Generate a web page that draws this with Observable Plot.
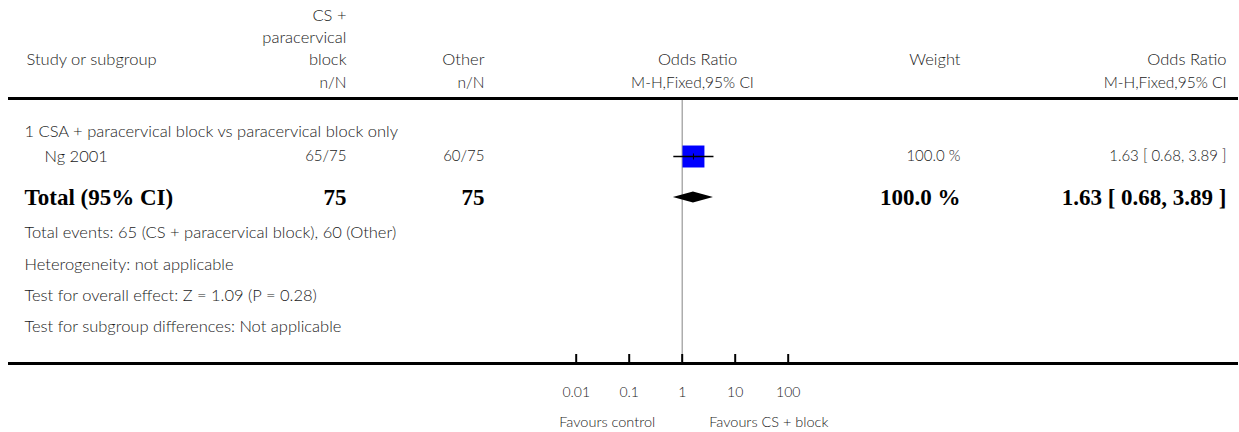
<!DOCTYPE html>
<html><head><meta charset="utf-8">
<script src="https://cdn.jsdelivr.net/npm/d3@7"></script>
<script src="https://cdn.jsdelivr.net/npm/@observablehq/plot@0.6"></script>
<style>
body{margin:0;background:#fff}
#chart svg{display:block}
</style>
</head><body><div id="chart"></div>
<script>
// ---- data ----
const subgroupTitles = ["1 CSA + paracervical block vs paracervical block only"];
const studies = ["Ng 2001"];
const expEvents = [65];
const expTotals = [75];
const ctrlEvents = [60];
const ctrlTotals = [75];
const studyOR = [1.63];
const studyLow = [0.68];
const studyHigh = [3.89];
const studyWeight = [100.0];
const totalExp = [75];
const totalCtrl = [75];
const pooledOR = [1.63];
const pooledLow = [0.68];
const pooledHigh = [3.89];
const pooledWeight = [100.0];
const footerLines = [
  "Total events: 65 (CS + paracervical block), 60 (Other)",
  "Heterogeneity: not applicable",
  "Test for overall effect: Z = 1.09 (P = 0.28)",
  "Test for subgroup differences: Not applicable"
];
const tickValues = [0.01, 0.1, 1, 10, 100];
const tickLabels = ["0.01", "0.1", "1", "10", "100"];
const favourLabels = ["Favours control", "Favours CS + block"];
const expHeader = ["CS +", "paracervical", "block"];
const headers = ["Study or subgroup", "Other", "Odds Ratio", "Weight", "Odds Ratio"];
const subHeaders = ["n/N", "n/N", "M-H,Fixed,95% CI", "M-H,Fixed,95% CI"];

// ---- layout (pixels) ----
const W = 1239, H = 432;
const colLeft = 24, colIndent = 44, colExp = 346, colCtrl = 484, colPlot = 697, colWeight = 960, colOR = 1226;
const rowH = [15, 37, 59], rowSub = 83, rowTopRule = 98, rowGroup = 131, rowStudy0 = 156, rowTotal = 197;
const rowFoot = [232, 264, 295, 326], rowBotRule = 363, rowTickLab = 392, rowFav = 422;
const sans = "Lato, 'Open Sans', sans-serif";
const serif = "'Liberation Serif', 'DejaVu Serif', serif";
const ink = "#1a1a1a";
const fsText = 16.5, fsNum = 15, fsBold = 23;

const studyRows = studies.map((s, i) => ({
  name: s, e: `${expEvents[i]}/${expTotals[i]}`, c: `${ctrlEvents[i]}/${ctrlTotals[i]}`,
  or: studyOR[i], lo: studyLow[i], hi: studyHigh[i], w: studyWeight[i], y: rowStudy0 + i * 28
}));
const fmt2 = d3.format(".2f");
const ciText = (o, l, h) => `${fmt2(o)} [ ${fmt2(l)}, ${fmt2(h)} ]`;

const L = (text, x, y, extra = {}) => Plot.text([text], {text: d => d, frameAnchor: "left", dx: x, y: () => y, textAnchor: "start", fontSize: fsText, fill: ink, ...extra});
const R = (text, x, y, extra = {}) => L(text, x, y, {textAnchor: "end", ...extra});
const C = (text, x, y, extra = {}) => L(text, x, y, {textAnchor: "middle", ...extra});
const bold = {fontFamily: serif, fontWeight: "bold", fontSize: fsBold, fill: "#000"};

const diamond = pooledOR.flatMap((o, i) => [
  {x: pooledLow[i], y1: rowTotal, y2: rowTotal},
  {x: o, y1: rowTotal - 5.5, y2: rowTotal + 5.5},
  {x: pooledHigh[i], y1: rowTotal, y2: rowTotal}
]);

const marks = [
  // header
  ...expHeader.map((t, i) => R(t, colExp, rowH[i])),
  L(headers[0], colLeft + 2, rowH[2]),
  R(headers[1], colCtrl, rowH[2]),
  C(headers[2], colPlot, rowH[2]),
  R(headers[3], colWeight, rowH[2]),
  R(headers[4], colOR, rowH[2]),
  R(subHeaders[0], colExp, rowSub, {fontSize: fsNum + 0.5}),
  R(subHeaders[1], colCtrl, rowSub, {fontSize: fsNum + 0.5}),
  C(subHeaders[2], colPlot - 5, rowSub, {fontSize: fsNum + 0.5}),
  R(subHeaders[3], colOR, rowSub, {fontSize: fsNum + 0.5}),
  // rules
  Plot.ruleY([rowTopRule], {y: d => d, strokeWidth: 3, stroke: "#000", insetLeft: 8, insetRight: 1}),
  Plot.ruleY([rowBotRule], {y: d => d, strokeWidth: 3, stroke: "#000", insetLeft: 8, insetRight: 1}),
  Plot.ruleX([1], {x: d => d, y1: rowTopRule + 2, y2: rowBotRule, stroke: "#999", strokeWidth: 1.2}),
  // subgroup + studies
  L(subgroupTitles[0], colLeft, rowGroup),
  Plot.text(studyRows, {text: "name", frameAnchor: "left", dx: colIndent, y: "y", fontSize: fsText, fill: ink, textAnchor: "start"}),
  Plot.text(studyRows, {text: "e", frameAnchor: "left", dx: colExp, y: "y", fontSize: fsNum, fill: ink, textAnchor: "end"}),
  Plot.text(studyRows, {text: "c", frameAnchor: "left", dx: colCtrl, y: "y", fontSize: fsNum, fill: ink, textAnchor: "end"}),
  Plot.text(studyRows, {text: d => d3.format(".1f")(d.w) + " %", frameAnchor: "left", dx: colWeight, y: "y", fontSize: fsNum, fill: ink, textAnchor: "end"}),
  Plot.text(studyRows, {text: d => ciText(d.or, d.lo, d.hi), frameAnchor: "left", dx: colOR, y: "y", fontSize: fsNum, fill: ink, textAnchor: "end"}),
  Plot.dot(studyRows, {x: "or", y: "y", symbol: "square", r: 12.4, fill: "#0000ff", stroke: "none"}),
  Plot.link(studyRows, {x1: "lo", x2: "hi", y1: "y", y2: "y", stroke: "#000", strokeWidth: 1.5}),
  Plot.link(studyRows, {x1: "or", x2: "or", y1: d => d.y - 3, y2: d => d.y + 3, stroke: "#000", strokeWidth: 1}),
  // total
  L("Total (95% CI)", colLeft, rowTotal, bold),
  R(String(totalExp[0]), colExp, rowTotal, bold),
  R(String(totalCtrl[0]), colCtrl, rowTotal, bold),
  R(d3.format(".1f")(pooledWeight[0]) + " %", colWeight, rowTotal, bold),
  R(ciText(pooledOR[0], pooledLow[0], pooledHigh[0]), colOR, rowTotal, bold),
  Plot.areaY(diamond, {x: "x", y1: "y1", y2: "y2", fill: "#000"}),
  // footer
  ...footerLines.map((t, i) => L(t, colLeft, rowFoot[i])),
  // axis
  Plot.ruleX(tickValues, {x: d => d, y1: rowBotRule - 9, y2: rowBotRule, stroke: "#000", strokeWidth: 2}),
  Plot.text(tickValues, {x: d => d, y: () => rowTickLab, text: (d, i) => tickLabels[i], fontSize: 14, fill: ink}),
  Plot.text([favourLabels[0]], {x: () => 1, dx: -27, y: () => rowFav, text: d => d, textAnchor: "end", fontSize: 14.5, fill: ink}),
  Plot.text([favourLabels[1]], {x: () => 1, dx: 27, y: () => rowFav, text: d => d, textAnchor: "start", fontSize: 14.5, fill: ink})
];

const chart = Plot.plot({
  width: W, height: H,
  marginTop: 0, marginBottom: 0, marginLeft: 0, marginRight: 0,
  style: {fontFamily: sans, fontWeight: 300, background: "#fff", color: ink},
  x: {type: "log", domain: [0.01, 100], range: [575.7, 787.7], axis: null},
  y: {type: "linear", domain: [0, H], range: [0, H], axis: null},
  marks
});
document.getElementById("chart").appendChild(chart);
</script>
</body></html>
